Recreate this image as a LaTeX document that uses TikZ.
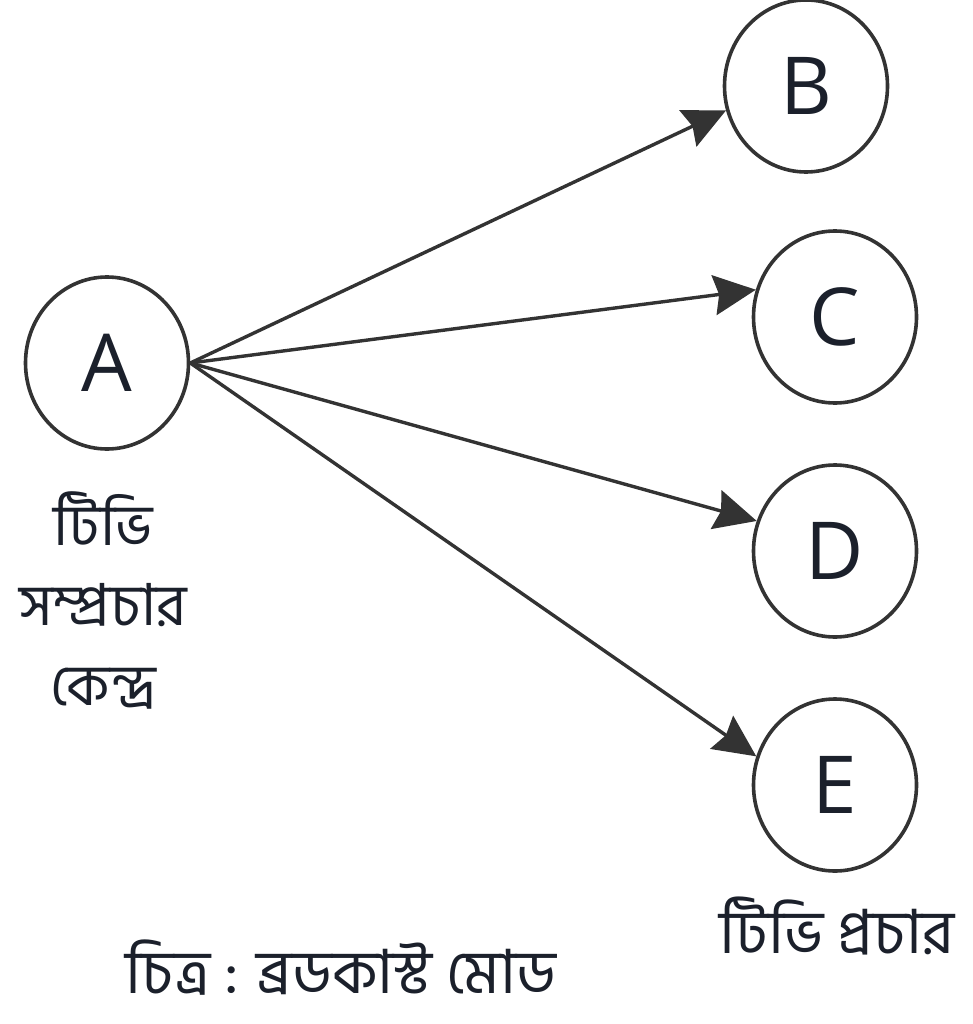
\documentclass[tikz,border=0pt]{standalone}
\usepackage{fontspec}
\setmainfont{Open Sans}
\newfontfamily\bnfont[Script=Bengali]{Hind Siliguri}
\usetikzlibrary{arrows.meta,positioning,shapes.geometric}
\definecolor{edgegray}{HTML}{333333}
\definecolor{letterink}{HTML}{1B202B}

\begin{document}
\begin{tikzpicture}[x=1pt, y=-1pt, node distance=234pt, on grid,
  >={Stealth[length=42pt,width=40pt,inset=5pt]}]
\tikzstyle{every node}=[font=\fontsize{80}{90}\selectfont, text=letterink]
\tikzstyle{station}=[ellipse, draw=edgegray, line width=3.6pt, minimum width=163pt, minimum height=172pt, inner sep=0pt]
\tikzstyle{bntext}=[font=\bnfont\fontsize{58}{80}\selectfont, align=center, inner sep=0pt]
\tikzstyle{bnbig}=[bntext, font=\bnfont\fontsize{61}{80}\selectfont]
\tikzstyle{beam}=[->, draw=edgegray, line width=3.4pt]
\useasboundingbox (0,0) rectangle (972,1024);
   \node[station](a) at (107,363){A};
   \node[station](c) at (835,317){C};
   \node[station](b)[above left=231pt and 29pt of c]{B};
   \node[station](d)[below=of c]{D};
   \node[station](e)[below=of d]{E};
   \node[bntext](alabel) at (103,600){টিভি\\সম্প্রচার\\কেন্দ্র};
   \node[bnbig](elabel) at (837,926){টিভি প্রচার};
   \node[bnbig, anchor=base, text depth=14pt](caption) at (341,993){চিত্র : ব্রডকাস্ট মোড};
   \path(a.east) edge[beam] (b.197);
   \path(a.east) edge[beam] (c.161);
   \path(a.east) edge[beam] (d.159);
   \path(a.east) edge[beam] (e.160);
\end{tikzpicture}
\end{document}
